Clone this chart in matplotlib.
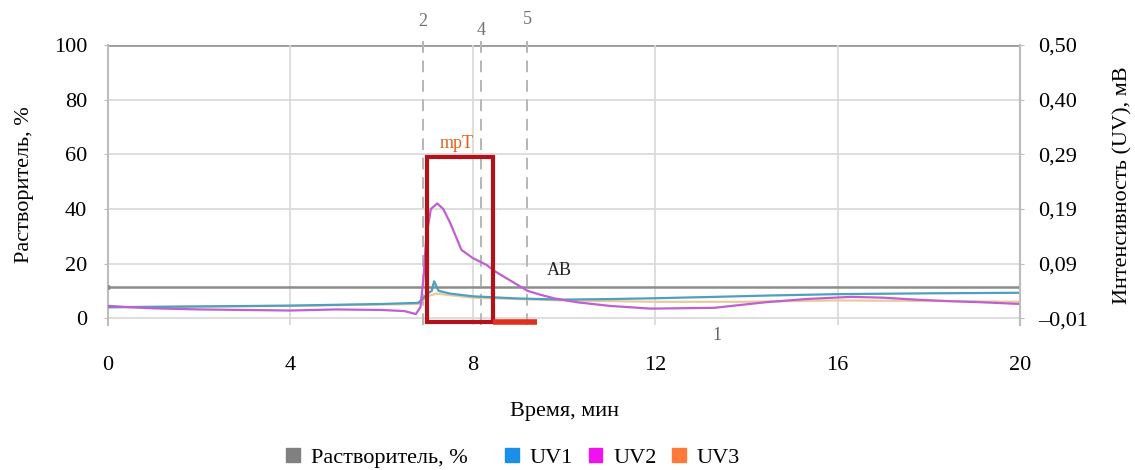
import numpy as np
import matplotlib
matplotlib.use("Agg")
from matplotlib import pyplot as plt
from matplotlib.patches import Rectangle, Patch

plt.rcParams['font.family'] = ['Liberation Serif', 'DejaVu Serif']

# ---- data (left-axis units) ----
solvent_t = [0, 20]
solvent_y = [11.5, 11.5]

uv1_t = [0, 2, 4, 6, 6.8, 6.9, 7.0, 7.1, 7.15, 7.25, 7.5, 8, 9, 10, 11, 12, 13.3, 14.5, 16, 18, 20]
uv1_y = [4.0, 4.3, 4.6, 5.2, 5.6, 7.0, 9.0, 10.0, 13.5, 10.0, 9.0, 8.0, 7.2, 6.8, 7.0, 7.3, 7.8, 8.3, 8.8, 9.1, 9.3]

uv2_t = [0, 0.5, 1, 2, 3, 4, 5, 6, 6.5, 6.75, 6.85, 6.92, 6.98, 7.08, 7.22, 7.35, 7.5, 7.75,
         8.0, 8.3, 8.5, 8.8, 9.2, 9.5, 9.8, 10.3, 11, 11.9, 13.3, 14.4, 15.3, 16.3, 17.0,
         17.7, 18.5, 19.2, 20]
uv2_y = [4.5, 4.0, 3.6, 3.2, 3.0, 2.8, 3.2, 3.0, 2.6, 1.5, 4.0, 15, 30, 40, 42, 40, 35, 25,
         22, 19.5, 17, 14, 10, 8.5, 7.2, 5.8, 4.5, 3.5, 3.8, 5.8, 7.0, 7.8, 7.5,
         6.8, 6.2, 5.8, 5.2]

uv3_t = [0, 4, 6.8, 7.0, 7.2, 8, 10, 12, 14, 16, 18, 20]
uv3_y = [4.0, 4.5, 5.2, 8.0, 9.0, 7.5, 6.5, 6.0, 6.0, 6.5, 6.3, 6.0]

x_ticks = [0, 4, 8, 12, 16, 20]
left_ticks = [0, 20, 40, 60, 80, 100]
right_labels = ['\u20130,01', '0,09', '0,19', '0,29', '0,40', '0,50']

fractions = [(6.9, '2', 108.5), (8.18, '4', 105.5), (9.19, '5', 109.5)]
box_t = (7.0, 8.45)
box_y = (-1.5, 59)
bar_t = (8.45, 9.4)

# ---- figure ----
fig = plt.figure(figsize=(11.35, 4.7), dpi=100)
ax = fig.add_axes([0.0952, 0.3085, 0.8035, 0.5957])
ax.set_xlim(0, 20)
ax.set_ylim(-2.5, 100)

grid_c = '#d8d8d8'
for v in left_ticks[:-1]:
    ax.axhline(v, color=grid_c, lw=1.2, zorder=0)
ax.axhline(100, color='#9a9a9a', lw=2, zorder=0)
for v in x_ticks[1:-1]:
    ax.axvline(v, color=grid_c, lw=1.2, zorder=0)

for sp in ['top', 'bottom']:
    ax.spines[sp].set_visible(False)
for sp in ['left', 'right']:
    ax.spines[sp].set_color('#bdbdbd')
    ax.spines[sp].set_linewidth(1.5)

# fraction markers
for t, lab, ly in fractions:
    ax.plot([t, t], [-2.5, 104], color='#b5b5b5', lw=1.4, ls=(0, (6, 4)), clip_on=False, zorder=1)
    ax.text(t, ly, lab, color='#707070', fontsize=13, ha='center', va='center')

# traces
ax.plot(solvent_t, solvent_y, color='#8c8c8c', lw=1.8, marker='o', ms=2.5, zorder=3)
ax.plot(uv3_t, uv3_y, color='#e9c9a0', lw=1.6, zorder=3)
ax.plot(uv1_t, uv1_y, color='#4f9fbf', lw=1.6, zorder=4)
ax.plot(uv2_t, uv2_y, color='#c060d0', lw=1.6, zorder=5)

# fraction box and bar
ax.add_patch(Rectangle((box_t[0], box_y[0]), box_t[1] - box_t[0], box_y[1] - box_y[0],
                       fill=False, edgecolor='#b3121a', lw=3, zorder=6))
ax.plot(bar_t, [-1.5, -1.5], color='#e0301e', lw=4, solid_capstyle='butt', zorder=6)

ax.text(7.65, 64, 'mpT', color='#e0601a', fontsize=13, ha='center', va='center')
ax.text(9.9, 17.5, 'AB', color='#222222', fontsize=13, ha='center', va='center')
ax.text(13.35, -6.5, '1', color='#666666', fontsize=13, ha='center', va='center', clip_on=False)

ax.set_xticks(x_ticks)
ax.set_xticklabels([str(v) for v in x_ticks])
ax.set_yticks(left_ticks)
ax.tick_params(axis='x', length=0, pad=22, labelsize=16)
ax.tick_params(axis='y', length=3, color='#bdbdbd', labelsize=16, pad=12)
ax.set_xlabel('Время, мин', fontsize=16, labelpad=20)
ax.set_ylabel('Растворитель, %', fontsize=16, labelpad=14)

ax2 = ax.twinx()
ax2.set_ylim(ax.get_ylim())
ax2.set_yticks(left_ticks)
ax2.set_yticklabels(right_labels)
ax2.tick_params(axis='y', length=3, color='#bdbdbd', labelsize=16, pad=10)
for sp in ['top', 'bottom', 'left']:
    ax2.spines[sp].set_visible(False)
ax2.spines['right'].set_color('#bdbdbd')
ax2.spines['right'].set_linewidth(1.5)
ax2.set_ylabel('Интенсивность (UV), мВ', fontsize=16, labelpad=18)

handles = [Patch(facecolor='#808080', edgecolor='#808080', label='Растворитель, %    '),
           Patch(facecolor='#1a8fe8', edgecolor='#1a8fe8', label='UV1'),
           Patch(facecolor='#f010f0', edgecolor='#f010f0', label='UV2'),
           Patch(facecolor='#ff7a3a', edgecolor='#ff7a3a', label='UV3')]
fig.legend(handles=handles, loc='center', bbox_to_anchor=(0.452, 0.025), ncol=4,
           frameon=False, fontsize=16, handlelength=0.6, handleheight=0.6,
           handletextpad=0.5, columnspacing=0.7)

fig.savefig('out.png', dpi=100)
